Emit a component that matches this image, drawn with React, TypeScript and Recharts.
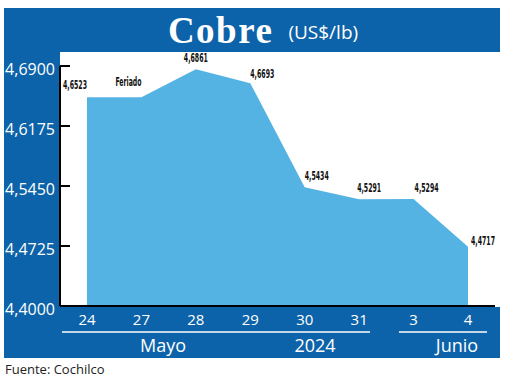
import { AreaChart, Area, XAxis, YAxis, LabelList } from "recharts";

const days = ["24", "27", "28", "29", "30", "31", "3", "4"];
const prices = [4.6523, 4.6523, 4.6861, 4.6693, 4.5434, 4.5291, 4.5294, 4.4717];
const notes = ["", "Feriado", "", "", "", "", "", ""];
const yTicks = [4.4, 4.4725, 4.545, 4.6175, 4.69];
const groups = ["Mayo", "2024", "Junio"];

const data = days.map((day, i) => ({ day, price: prices[i], note: notes[i] }));

const BLUE = "#0d63a9";
const FILL = "#55b3e3";

const fmt = (v: number) => v.toFixed(4).replace(".", ",");

// label nudges per point, as in the printed chart
const labelShift = [
  [-12, -8],
  [-13, -11],
  [0, -7],
  [12, -5],
  [12, -7],
  [10, -7],
  [13, -7],
  [15, -2],
];

const PointLabel = (props: any) => {
  const { x, y, index } = props;
  const d = data[index];
  const [dx, dy] = labelShift[index];
  return (
    <text
      x={x + dx}
      y={y + dy}
      textAnchor="middle"
      fontFamily="'DejaVu Sans Condensed', 'Liberation Sans Narrow', sans-serif"
      fontWeight="bold"
      fontSize={13}
      textLength={d.note ? 26 : 24}
      lengthAdjust="spacingAndGlyphs"
      fill="#111"
    >
      {d.note || fmt(d.price)}
    </text>
  );
};

const YTick = (props: any) => {
  const { x, y, payload } = props;
  return (
    <g>
      <line x1={x} x2={x + 10} y1={y} y2={y} stroke="#000" strokeWidth={2} />
      <text
        x={x - 5}
        y={y + 3}
        dy="0.35em"
        textAnchor="end"
        fill="#fff"
        fontSize={16}
        fontFamily="'Open Sans', sans-serif"
      >
        {fmt(payload.value)}
      </text>
    </g>
  );
};

const XTick = (props: any) => {
  const { x, payload } = props;
  return (
    <text
      x={x}
      y={320}
      dy="0.35em"
      textAnchor="middle"
      fill="#fff"
      fontSize={15}
      fontFamily="'Open Sans', sans-serif"
    >
      {payload.value}
    </text>
  );
};

export default function App() {
  return (
    <div style={{ position: "absolute", left: 0, top: 0, width: 520, height: 379, background: "#fff" }}>
      <div style={{ position: "absolute", left: 4, top: 8, width: 496, height: 44, background: BLUE }} />
      <div style={{ position: "absolute", left: 4, top: 52, width: 56, height: 306, background: BLUE }} />
      <div style={{ position: "absolute", left: 60, top: 307, width: 440, height: 51, background: BLUE }} />
      <div
        style={{
          position: "absolute",
          left: 4,
          top: 8,
          width: 496,
          height: 44,
          display: "flex",
          alignItems: "center",
          justifyContent: "center",
          color: "#fff",
          gap: 15,
          paddingLeft: 22,
          boxSizing: "border-box",
        }}
      >
        <span style={{ fontFamily: "'Liberation Serif', serif", fontWeight: "bold", fontSize: 37, letterSpacing: 1.5 }}>
          Cobre
        </span>
        <span style={{ fontFamily: "'Open Sans', sans-serif", fontSize: 19, marginTop: 4 }}>(US$/lb)</span>
      </div>
      <div style={{ position: "absolute", left: 0, top: 0 }}>
        <AreaChart width={520} height={379} data={data} margin={{ top: 66, right: 25, bottom: 21, left: 4 }}>
          <XAxis
            dataKey="day"
            height={52}
            padding={{ left: 27, right: 27 }}
            axisLine={{ stroke: "#000", strokeWidth: 2 }}
            tickLine={false}
            tick={<XTick />}
            interval={0}
          />
          <YAxis
            width={56}
            domain={[4.4, 4.69]}
            ticks={yTicks}
            allowDataOverflow
            axisLine={{ stroke: "#000", strokeWidth: 2 }}
            tickLine={false}
            tickSize={0}
            tickMargin={0}
            tick={<YTick />}
          />
          <Area
            type="linear"
            dataKey="price"
            fill={FILL}
            fillOpacity={1}
            stroke="none"
            baseValue={4.4}
            isAnimationActive={false}
          >
            <LabelList dataKey="price" content={<PointLabel />} />
          </Area>
          <line x1={62} x2={370} y1={332} y2={332} stroke="#fff" strokeWidth={1.5} />
          <line x1={399} x2={487} y1={332} y2={332} stroke="#fff" strokeWidth={1.5} />
          {groups.map((g, i) => (
            <text
              key={g}
              x={[163, 315, 457][i]}
              y={346}
              dy="0.35em"
              textAnchor="middle"
              fill="#fff"
              fontSize={18}
              fontFamily="'Open Sans', sans-serif"
            >
              {g}
            </text>
          ))}
        </AreaChart>
      </div>
      <div
        style={{
          position: "absolute",
          left: 5,
          top: 360,
          fontFamily: "'Open Sans', sans-serif",
          fontSize: 13,
          color: "#222",
        }}
      >
        Fuente: Cochilco
      </div>
    </div>
  );
}
